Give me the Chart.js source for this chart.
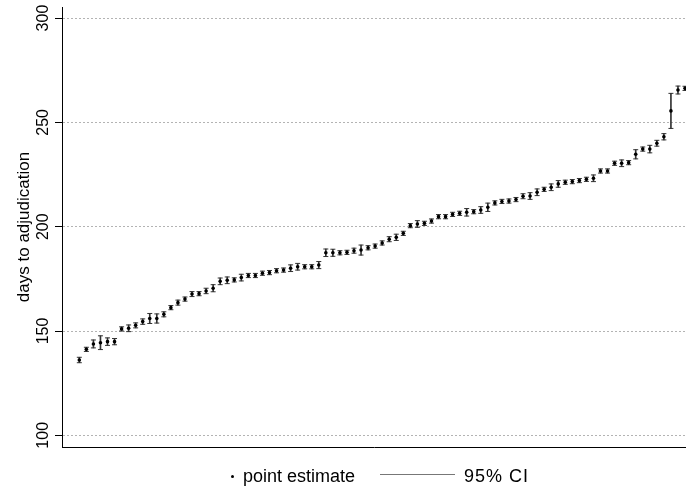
<!DOCTYPE html>
<html>
<head>
<meta charset="utf-8">
<script src="https://cdn.jsdelivr.net/npm/chart.js@4.4.0/dist/chart.umd.min.js"></script>
<style>
  html, body { margin: 0; padding: 0; background: #fff; }
  #wrap { position: relative; width: 686px; height: 487px; }
  .lg { position: absolute; font-family: "Liberation Sans", Arial, sans-serif; font-size: 18px; line-height: 20px; color: #000; white-space: nowrap; }
  #lgDot { position: absolute; left: 231px; top: 475px; width: 3px; height: 3px; border-radius: 50%; background: #000; }
  #lgLine { position: absolute; left: 380px; top: 474px; width: 75px; height: 1px; background: #777; }
</style>
</head>
<body>
<div id="wrap">
  <canvas id="caterpillarChart" width="686" height="487"></canvas>
  <span id="lgDot"></span>
  <span class="lg" style="left:243px; top:466px;">point estimate</span>
  <span id="lgLine"></span>
  <span class="lg" style="left:464px; top:466px; letter-spacing:1px;">95% CI</span>
</div>
<script>
// point estimates, sorted (days to adjudication)
const estimates = [
  136.1, 141.2, 143.8, 144.4, 144.9, 144.9, 151.0, 151.3, 152.7, 154.5,
  156.0, 156.0, 158.0, 161.2, 163.6, 165.3, 167.7, 167.9, 169.2, 170.5,
  173.8, 174.3, 174.5, 175.6, 176.6, 176.6, 177.7, 178.0, 178.9, 179.2,
  180.1, 180.8, 180.8, 180.8, 181.6, 187.5, 187.5, 187.5, 187.7, 188.5,
  188.8, 189.9, 190.7, 192.2, 194.0, 194.9, 196.8, 200.5, 201.3, 201.6,
  202.7, 204.8, 204.8, 205.9, 206.4, 206.9, 207.2, 208.0, 209.3, 211.4,
  212.1, 212.3, 213.0, 214.6, 214.7, 216.5, 217.9, 218.9, 220.5, 221.3,
  221.6, 222.1, 222.7, 223.2, 226.7, 226.7, 230.4, 230.4, 230.7, 234.7,
  237.2, 237.2, 240.0, 243.1, 255.5, 265.5, 266.3
];
// 95% CI lower bounds
const ciLow = [
  134.8, 140.2, 141.9, 141.1, 143.1, 143.4, 150.0, 149.7, 151.5, 153.2,
  153.6, 153.8, 156.8, 160.2, 162.4, 164.3, 166.5, 166.9, 167.9, 168.8,
  172.2, 172.7, 173.5, 174.0, 175.6, 175.6, 176.7, 177.0, 177.9, 178.2,
  178.5, 179.2, 179.8, 179.8, 179.9, 185.7, 185.8, 186.5, 186.7, 187.3,
  186.4, 188.9, 189.7, 191.2, 192.8, 193.4, 195.8, 199.5, 199.7, 200.6,
  201.7, 203.8, 203.8, 204.9, 205.4, 205.1, 206.2, 206.4, 207.3, 210.4,
  211.1, 211.3, 212.0, 213.4, 213.1, 214.9, 216.9, 217.3, 218.9, 220.3,
  220.6, 221.1, 221.7, 221.6, 225.7, 225.7, 229.4, 228.8, 229.7, 232.5,
  236.2, 235.4, 238.6, 241.6, 247.1, 263.6, 265.3
];
// 95% CI upper bounds
const ciHigh = [
  137.4, 142.2, 145.7, 147.7, 146.7, 146.4, 152.0, 152.9, 153.9, 155.8,
  158.4, 158.2, 159.2, 162.2, 164.8, 166.3, 168.9, 168.9, 170.5, 172.2,
  175.4, 175.9, 175.5, 177.2, 177.6, 177.6, 178.7, 179.0, 179.9, 180.2,
  181.7, 182.4, 181.8, 181.8, 183.3, 189.3, 189.2, 188.5, 188.7, 189.7,
  191.2, 190.9, 191.7, 193.2, 195.2, 196.4, 197.8, 201.5, 202.9, 202.6,
  203.7, 205.8, 205.8, 206.9, 207.4, 208.7, 208.2, 209.6, 211.3, 212.4,
  213.1, 213.3, 214.0, 215.8, 216.3, 218.1, 218.9, 220.5, 222.1, 222.3,
  222.6, 223.1, 223.7, 224.8, 227.7, 227.7, 231.4, 232.0, 231.7, 236.9,
  238.2, 239.0, 241.4, 244.6, 263.9, 267.4, 267.3
];
const yTicks = [100, 150, 200, 250, 300];

// rank of each unit along the x axis
const ranks = estimates.map((_, i) => i + 1);

const FONT = '"Liberation Sans", Arial, sans-serif';

// y tick labels are drawn rotated and centred on the tick
const rotatedTicks = {
  id: 'rotatedTicks',
  afterDraw(chart) {
    const ctx = chart.ctx;
    const y = chart.scales.y;
    ctx.save();
    ctx.font = '16px ' + FONT;
    ctx.fillStyle = '#000';
    ctx.textAlign = 'center';
    ctx.textBaseline = 'middle';
    yTicks.forEach((v) => {
      ctx.save();
      ctx.translate(44, y.getPixelForValue(v));
      ctx.rotate(-Math.PI / 2);
      ctx.fillText(String(v), 0, 0);
      ctx.restore();
    });
    ctx.restore();
  }
};

const ciColor = '#333';

new Chart(document.getElementById('caterpillarChart'), {
  type: 'scatter',
  data: {
    datasets: [
      {
        type: 'bar',
        label: '95% CI',
        data: ranks.map((r, i) => ({ x: r, y: [ciLow[i], ciHigh[i]] })),
        backgroundColor: ciColor,
        borderWidth: 0,
        barThickness: 1,
        order: 4
      },
      {
        label: 'ci low',
        data: ranks.map((r, i) => ({ x: r, y: ciLow[i] })),
        pointStyle: 'line',
        radius: 2.5,
        borderColor: ciColor,
        borderWidth: 1,
        order: 3
      },
      {
        label: 'ci high',
        data: ranks.map((r, i) => ({ x: r, y: ciHigh[i] })),
        pointStyle: 'line',
        radius: 2.5,
        borderColor: ciColor,
        borderWidth: 1,
        order: 2
      },
      {
        label: 'point estimate',
        data: ranks.map((r, i) => ({ x: r, y: estimates[i] })),
        pointStyle: 'circle',
        radius: 1.8,
        backgroundColor: '#000',
        borderWidth: 0,
        order: 1
      }
    ]
  },
  options: {
    responsive: false,
    animation: false,
    layout: { autoPadding: false, padding: { top: 7, bottom: 40, left: 0, right: 0 } },
    plugins: {
      legend: { display: false },
      tooltip: { enabled: false }
    },
    scales: {
      x: {
        type: 'linear',
        offset: false,
        min: -1.46,
        max: 87.14,
        ticks: { display: false },
        grid: { display: false, drawTicks: false, offset: false },
        border: { display: true, color: '#000', width: 1 },
        afterFit: (s) => { s.height = 0; }
      },
      y: {
        type: 'linear',
        min: 94.4,
        max: 305.3,
        afterBuildTicks: (s) => { s.ticks = yTicks.map((v) => ({ value: v })); },
        ticks: { display: false },
        grid: {
          color: '#b3b3b3',
          lineWidth: 1,
          tickLength: 7,
          tickColor: '#000',
          tickBorderDash: []
        },
        border: { display: true, color: '#000', width: 1, dash: [2, 2] },
        title: {
          display: true,
          text: 'days to adjudication',
          color: '#000',
          font: { family: FONT, size: 17 },
          padding: { top: 14, bottom: 0 }
        },
        afterFit: (s) => { s.width = 62; }
      }
    }
  },
  plugins: [rotatedTicks]
});
</script>
</body>
</html>
